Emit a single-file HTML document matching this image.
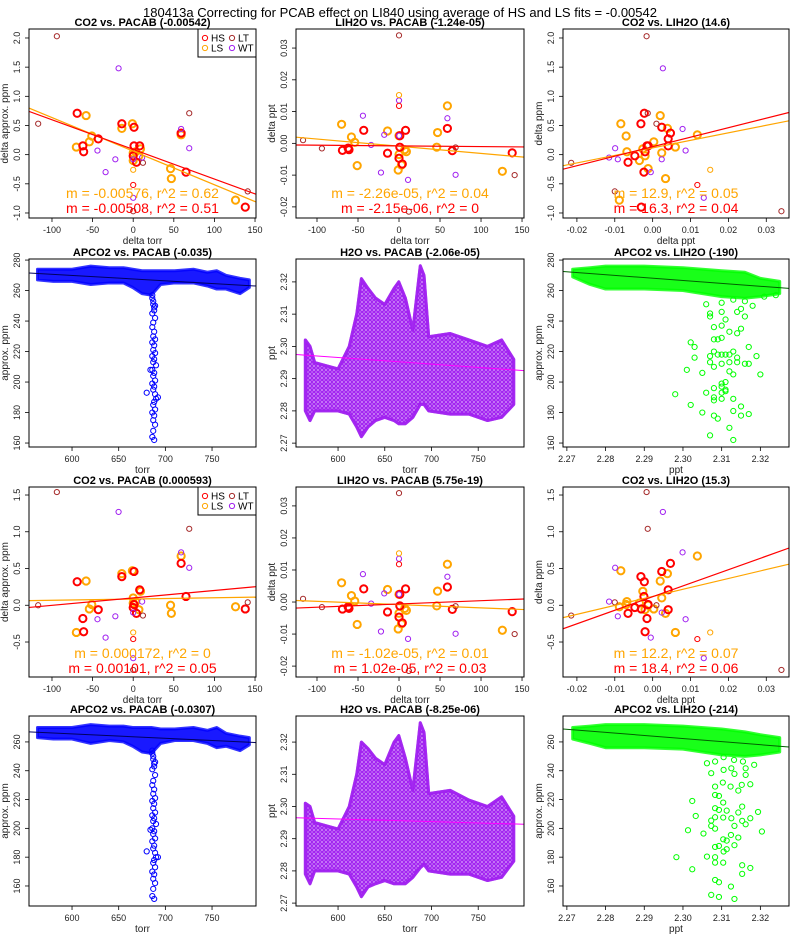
<!DOCTYPE html>
<html><head><meta charset="utf-8"><title>180413a PCAB correction</title>
<style>
html,body{margin:0;padding:0;background:#fff;}
svg{display:block;font-family:"Liberation Sans",Arial,sans-serif;}
</style></head>
<body>
<svg id="fig" width="800" height="950" viewBox="0 0 800 950" xmlns="http://www.w3.org/2000/svg">
<defs>
<pattern id="patPurple" width="4" height="4" patternUnits="userSpaceOnUse"><circle cx="2" cy="2" r="1.6" fill="none" stroke="#a020f0" stroke-width="0.9"/></pattern>
</defs>
<text x="400" y="17" font-size="13" text-anchor="middle">180413a Correcting for PCAB effect on LI840 using average of HS and LS fits = -0.00542</text>
</svg>
<script>
// ---------- data: delta scatter (rows 1 & 3) ----------
const hsTorr=[-69,-62,-61,-43,-14,1,1,0,4,8,59,65,138];
const hsCO2=[0.71,0.15,0.05,0.27,0.53,0.47,0.15,-0.02,-0.13,0.15,0.37,-0.30,-0.90];
const hsH2O=[-0.0022,-0.0015,-0.0020,0.0041,-0.0031,0.0024,-0.0012,-0.0047,-0.0065,0.0041,0.0047,-0.0023,-0.0030];
const hsCO2c=[0.32,-0.18,-0.36,-0.06,0.39,0.46,0.01,-0.03,-0.11,0.21,0.57,0.12,-0.05];
const lsTorr=[-70,-58,-54,-51,-14,-1,0,0,3,7,9,46,47,59,126];
const lsCO2=[0.13,0.67,0.22,0.32,0.45,0.53,0.03,-0.10,0.05,-0.02,0.10,-0.24,-0.41,0.34,-0.78];
const lsH2O=[0.006,0.002,0.0003,-0.007,0.0039,-0.0084,0.0024,-0.0035,-0.0068,-0.0020,-0.0026,-0.0012,0.0034,0.0118,-0.0088];
const lsCO2c=[-0.37,0.33,-0.05,0.01,0.43,0.47,0.10,0.03,0.05,-0.06,0.19,0.0,-0.11,0.67,-0.02];
const ltTorr=[-94,-117,69,141,12,0];
const ltCO2=[2.03,0.53,0.71,-0.63,-0.14,-0.97];
const ltH2O=[-0.0016,0.001,-0.0013,-0.010,-0.0215,0.034];
const ltCO2c=[1.54,0.0,1.04,0.04,-0.14,-0.88];
const wtTorr=[-18,-44,-34,-22,0,0,11,59,69];
const wtCO2=[1.48,0.07,-0.30,-0.08,-0.08,-0.74,-0.05,0.44,0.11];
const wtH2O=[0.0027,0.0087,-0.0005,-0.0092,0.0024,0.0135,-0.0115,0.0079,-0.0099];
const wtCO2c=[1.27,-0.19,-0.44,-0.15,-0.10,-0.72,0.05,0.72,0.51];
const hsOutTorr=[0], hsOutCO2=[-0.52], hsOutH2O=[0.0118], hsOutCO2c=[-0.46];
const lsOutTorr=[0], lsOutCO2=[-0.26], lsOutH2O=[0.0152], lsOutCO2c=[-0.37];

// fit lines [slope, intercept]
const fitR1C1=[[-0.00576,0.06],[-0.00508,0.09]];
const fitR1C2=[[-2.26e-5,-0.0009],[-2.15e-6,-0.0008]];
const fitR1C3=[[12.9,0.116],[16.3,0.136]];
const fitR3C1=[[0.000172,0.085],[0.00101,0.10]];
const fitR3C2=[[-1.02e-5,-0.0008],[1.02e-5,-0.0006]];
const fitR3C3=[[12.2,0.12],[18.4,0.116]];

// ---------- data: dense panels (rows 2 & 4) ----------
const torrBand=[563,580,600,620,640,655,665,675,685,695,710,730,745,755,765,780,790];
const apco2LowR2=[267,266,266,264,265,265,262,258,257,264,265,265,263,261,261,258,262];
const apco2HighR2=[274,274,274,276,275,275,274,273,273,273,273,274,272,273,270,268,267];
const apco2LowR4=[263,262,262,259,261,260,257,253,252,259,261,261,259,256,257,254,258];
const apco2HighR4=[270,270,270,272,271,271,270,270,270,269,269,270,268,270,266,264,263];
const spikeTorr=[686,687,688,686,689,687,686,688,687,689,686,688,687,689,686,688,687,690,686,688,687,689,686,688,687,689,680,690,688,687,689,686,688,687,689,687,686,688,684,692,687,688,686,689];
const spikeR2=[257,253,249,245,242,239,236,233,230,228,226,224,221,219,217,215,213,211,208,206,204,201,199,197,195,192,193,189,187,185,182,180,178,175,172,168,164,162,208,190,251,247,255,250];
const spikeR4=[254,250,245,241,237,233,230,227,224,221,219,217,214,211,209,207,205,203,200,198,196,193,191,188,186,183,184,180,178,176,173,170,168,165,162,158,153,151,199,180,248,243,252,246];

const h2oTorr=[565,570,575,600,612,620,625,632,640,650,660,665,672,680,688,692,697,720,740,760,775,788];
const h2oLowR2=[2.280,2.277,2.280,2.280,2.279,2.275,2.272,2.275,2.277,2.278,2.277,2.276,2.276,2.278,2.282,2.282,2.280,2.279,2.279,2.277,2.278,2.282];
const h2oHighR2=[2.302,2.300,2.295,2.293,2.300,2.310,2.321,2.318,2.315,2.313,2.318,2.320,2.315,2.305,2.325,2.322,2.303,2.304,2.302,2.300,2.302,2.296];
const h2oLowR4=[2.279,2.276,2.280,2.280,2.279,2.275,2.272,2.275,2.276,2.277,2.276,2.276,2.276,2.278,2.281,2.282,2.280,2.279,2.279,2.277,2.278,2.283];
const h2oHighR4=[2.301,2.300,2.295,2.293,2.300,2.310,2.320,2.318,2.315,2.313,2.320,2.322,2.315,2.305,2.326,2.323,2.304,2.305,2.302,2.300,2.303,2.297];

const pptBand=[2.2715,2.276,2.28,2.29,2.30,2.31,2.316,2.32,2.325];
const greenLowR2=[269,264,261,261,260,256,255,256,258];
const greenHighR2=[274,275,276,276,275,273,272,268,266];
const greenLowR4=[262,259,256,256,255,251,250,251,253];
const greenHighR4=[270,271,272,272,271,269,267,265,263];
const gPptR2=[2.298,2.302,2.301,2.303,2.302,2.305,2.306,2.307,2.307,2.307,2.307,2.306,2.308,2.308,2.308,2.308,2.308,2.308,2.308,2.308,2.307,2.309,2.309,2.309,2.310,2.310,2.310,2.310,2.310,2.310,2.310,2.310,2.310,2.310,2.311,2.311,2.311,2.311,2.311,2.312,2.312,2.312,2.312,2.312,2.313,2.313,2.313,2.313,2.313,2.314,2.314,2.314,2.314,2.315,2.315,2.315,2.315,2.316,2.316,2.317,2.317,2.317,2.319,2.320,2.318,2.313,2.316,2.321,2.324,2.303,2.305];
const gCo2R2=[192,185,208,216,226,206,193,217,213,243,245,251,236,228,220,210,196,190,188,178,165,176,218,228,237,229,218,199,197,193,189,212,246,252,195,200,218,194,241,218,233,170,213,207,181,205,189,162,220,213,216,232,246,184,178,235,248,212,243,212,179,223,217,205,250,254,253,256,257,223,180];
const gPptR4=[2.3062,2.3083,2.3105,2.3132,2.3155,2.3184,2.3073,2.3105,2.3125,2.3162,2.3133,2.3162,2.3103,2.3083,2.3123,2.3152,2.3174,2.3143,2.3083,2.3093,2.3104,2.3024,2.3083,2.3093,2.3113,2.3153,2.3143,2.3194,2.3033,2.3083,2.3104,2.3125,2.3174,2.3073,2.3153,2.3133,2.3162,2.3013,2.3073,2.3083,2.3053,2.3204,2.3124,2.3143,2.3104,2.3113,2.3133,2.3083,2.3093,2.3105,2.3113,2.2983,2.3062,2.3083,2.3083,2.3104,2.3153,2.3174,2.3024,2.3153,2.3083,2.3093,2.3124,2.3073,2.3093,2.3133];
const gCo2R4=[245.2,246.4,249.4,247.5,246.4,244.1,238.3,240.6,241.7,241.7,237.8,237.1,231.8,229.0,229.0,230.2,230.6,226.2,223.2,222.5,217.9,219.0,214.0,212.8,212.3,215.1,211.0,211.4,208.6,207.7,207.5,207.0,207.0,205.4,205.2,201.7,202.8,198.7,201.7,199.8,196.4,197.8,195.4,193.6,192.4,191.5,188.3,187.1,187.8,183.9,185.5,180.0,180.4,180.0,176.2,176.2,174.4,172.5,171.6,168.4,164.2,162.6,159.6,153.8,152.4,151.0];

// dense-panel fit lines [slope, intercept-at-xref, xref]
const fitR2C1=[-0.035,271.5,554]; const fitR4C1=[-0.0307,267,554];
const fitR2C2=[-2.06e-5,2.2975,555]; const fitR4C2=[-8.25e-6,2.2965,555];
const fitR2C3=[-190,272.5,2.269]; const fitR4C3=[-214,269,2.269];

// tick labels
const tDtorr=[-100,-50,0,50,100,150];
const tDppt=[-0.02,-0.01,0,0.01,0.02,0.03];
const tDppt2=[-0.02,-0.01,0,0.01,0.02,0.03];
const tCO2r1=[-1.0,-0.5,0.0,0.5,1.0,1.5,2.0];
const tCO2r3=[-0.5,0.0,0.5,1.0,1.5];
const tTorr=[600,650,700,750];
const tAp2=[160,180,200,220,240,260,280];
const tAp4=[160,180,200,220,240,260];
const tH2O=[2.27,2.28,2.29,2.30,2.31,2.32];
const tPpt=[2.27,2.28,2.29,2.30,2.31,2.32];

const NS="http://www.w3.org/2000/svg";
const svg=document.getElementById('fig');
function mk(tag,attrs,parent){const e=document.createElementNS(NS,tag);for(const k in attrs)e.setAttribute(k,attrs[k]);(parent||svg).appendChild(e);return e;}
const COLS=[[29,256],[296,524],[563,789]];
const ROWS=[[29,218],[259,447],[487,677],[716,906]];

function panel(r,c,xd,yd,xt,yt,xfmt,yfmt,title,xlab,ylab,name){
  const [x0,x1]=COLS[c],[y0,y1]=ROWS[r];
  const g=mk('g',{});
  
  
  const sx=v=>x0+(v-xd[0])/(xd[1]-xd[0])*(x1-x0);
  const sy=v=>y1-(v-yd[0])/(yd[1]-yd[0])*(y1-y0);
  const t=mk('text',{x:(x0+x1)/2,y:y0-3,'font-size':11,'font-weight':'bold','text-anchor':'middle'},g);t.textContent=title;
  
  
  xt.forEach(v=>{const X=sx(v);mk('line',{x1:X,x2:X,y1:y1,y2:y1+4,stroke:'#000','stroke-width':0.8},g);
    const tx=mk('text',{x:X,y:y1+15,'font-size':9,'text-anchor':'middle',fill:'#222'},g);tx.textContent=xfmt(v);
    
    });
  yt.forEach(v=>{const Y=sy(v);mk('line',{x1:x0-4,x2:x0,y1:Y,y2:Y,stroke:'#000','stroke-width':0.8},g);
    const X=x0-9;const ty=mk('text',{x:X,y:Y,'font-size':9,'text-anchor':'middle',fill:'#222',transform:`rotate(-90 ${X} ${Y})`},g);ty.textContent=yfmt(v);
    
    });
  const xl=mk('text',{x:(x0+x1)/2,y:y1+26,'font-size':10,'text-anchor':'middle',fill:'#222'},g);xl.textContent=xlab;
  
  
  const YX=x0-21,YY=(y0+y1)/2;
  const yl=mk('text',{x:YX,y:YY,'font-size':10,'text-anchor':'middle',fill:'#222',transform:`rotate(-90 ${YX} ${YY})`},g);yl.textContent=ylab;
  
  
  const clip='clip'+r+c;
  const cp=mk('clipPath',{id:clip},g);mk('rect',{x:x0,y:y0,width:x1-x0,height:y1-y0},cp);
  const plot=mk('g',{'clip-path':`url(#${clip})`},g);
  const box=mk('rect',{x:x0,y:y0,width:x1-x0,height:y1-y0,fill:'none',stroke:'#000','stroke-width':1},g);
  
  
  return {g,plot,sx,sy,xd,yd,x0,x1,y0,y1};
}
const f1=v=>v.toFixed(1), f2=v=>v.toFixed(2), f0=v=>String(v);

function pts(P,xs,ys,color,thick,name){
  xs.forEach((x,i)=>{const c=mk('circle',{cx:P.sx(x),cy:P.sy(ys[i]),r:thick?3.6:2.6,fill:'none',stroke:color,'stroke-width':thick?2:1},P.plot);
    
    });
}
function fitLines(P,fits){
  const cols=['#ffa500','#ff0000'];
  fits.forEach((f,i)=>{const l=mk('line',{x1:P.sx(P.xd[0]),y1:P.sy(f[0]*P.xd[0]+f[1]),x2:P.sx(P.xd[1]),y2:P.sy(f[0]*P.xd[1]+f[1]),stroke:cols[i],'stroke-width':1.2},P.plot);
    
    });
}
function annot(P,t1,t2,base){
  const cx=(P.x0+P.x1)/2;
  const a=mk('text',{x:cx,y:base,'font-size':14,'text-anchor':'middle',fill:'#ffa500'},P.g);a.textContent=t1;
  
  
  const b=mk('text',{x:cx,y:base+15,'font-size':14,'text-anchor':'middle',fill:'#ff0000'},P.g);b.textContent=t2;
  
  
}
function legend(P){
  const lx=P.x1-58, ly=P.y0;
  const lg=mk('g',{},P.g);
  
  
  mk('rect',{x:lx,y:ly,width:58,height:28,fill:'#fff',stroke:'#000','stroke-width':1},lg);
  [['HS','#ff0000',0,0],['LT','#a52a2a',1,0],['LS','#ffa500',0,1],['WT','#a020f0',1,1]].forEach(e=>{
    const ex=lx+7+e[2]*27, ey=ly+9+e[3]*10;
    const ent=mk('g',{},lg);
    
    
    mk('circle',{cx:ex,cy:ey,r:2.6,fill:'none',stroke:e[1],'stroke-width':1},ent);
    const t=mk('text',{x:ex+6,y:ey+3.5,'font-size':10},ent);t.textContent=e[0];
  });
}
function deltaSet(P,xs,ys){
  pts(P,xs[0],ys[0],'#ffa500',true,'ls-point');
  pts(P,xs[1],ys[1],'#ff0000',true,'hs-point');
  pts(P,xs[2],ys[2],'#a52a2a',false,'lt-point');
  pts(P,xs[3],ys[3],'#a020f0',false,'wt-point');
  pts(P,xs[4],ys[4],'#ff0000',false,'hs-outlier-point');
  pts(P,xs[5],ys[5],'#ffa500',false,'ls-outlier-point');
}
const TOR=[lsTorr,hsTorr,ltTorr,wtTorr,hsOutTorr,lsOutTorr];
const H2=[lsH2O,hsH2O,ltH2O,wtH2O,hsOutH2O,lsOutH2O];
const C1=[lsCO2,hsCO2,ltCO2,wtCO2,hsOutCO2,lsOutCO2];
const C3=[lsCO2c,hsCO2c,ltCO2c,wtCO2c,hsOutCO2c,lsOutCO2c];

const dTx1=[-128.3,151.2], dTx2=[-125.6,152.4], dPx=[-0.02367,0.036];
// Row 1
let P=panel(0,0,dTx1,[-1.086,2.154],tDtorr,tCO2r1,f0,f1,'CO2 vs. PACAB (-0.00542)','delta torr','delta approx. ppm','panel-co2-vs-pacab-r1');
deltaSet(P,TOR,C1);fitLines(P,fitR1C1);annot(P,'m = -0.00576, r^2 = 0.62','m = -0.00508, r^2 = 0.51',198);legend(P);
P=panel(0,1,dTx2,[-0.0235,0.036],tDtorr,tDppt,f0,f2,'LIH2O vs. PACAB (-1.24e-05)','delta torr','delta ppt','panel-lih2o-vs-pacab-r1');
deltaSet(P,TOR,H2);fitLines(P,fitR1C2);annot(P,'m = -2.26e-05, r^2 = 0.04','m = -2.15e-06, r^2 = 0',198);
P=panel(0,2,dPx,[-1.086,2.154],tDppt2,tCO2r1,f2,f1,'CO2 vs. LIH2O (14.6)','delta ppt','delta ppm','panel-co2-vs-lih2o-r1');
deltaSet(P,H2,C1);fitLines(P,fitR1C3);annot(P,'m = 12.9, r^2 = 0.05','m = 16.3, r^2 = 0.04',198);
// Row 3
P=panel(2,0,dTx1,[-0.976,1.609],tDtorr,tCO2r3,f0,f1,'CO2 vs. PACAB (0.000593)','delta torr','delta approx. ppm','panel-co2-vs-pacab-r3');
deltaSet(P,TOR,C3);fitLines(P,fitR3C1);annot(P,'m = 0.000172, r^2 = 0','m = 0.00101, r^2 = 0.05',658);legend(P);
P=panel(2,1,dTx2,[-0.0234,0.0359],tDtorr,tDppt,f0,f2,'LIH2O vs. PACAB (5.75e-19)','delta torr','delta ppt','panel-lih2o-vs-pacab-r3');
deltaSet(P,TOR,H2);fitLines(P,fitR3C2);annot(P,'m = -1.02e-05, r^2 = 0.01','m = 1.02e-05, r^2 = 0.03',658);
P=panel(2,2,dPx,[-0.976,1.609],tDppt2,tCO2r3,f2,f1,'CO2 vs. LIH2O (15.3)','delta ppt','delta ppm','panel-co2-vs-lih2o-r3');
deltaSet(P,H2,C3);fitLines(P,fitR3C3);annot(P,'m = 12.2, r^2 = 0.07','m = 18.4, r^2 = 0.06',658);

// dense panels
function band(P,xs,lo,hi,color,fill,op,name){
  let d='M'+xs.map((x,i)=>P.sx(x)+','+P.sy(hi[i])).join(' L');
  d+=' L'+xs.map((x,i)=>P.sx(x)+','+P.sy(lo[i])).reverse().join(' L')+' Z';
  const p=mk('path',{d:d,fill:fill,'fill-opacity':op,stroke:color,'stroke-width':3,'stroke-linejoin':'round','stroke-opacity':0.8},P.plot);
  
  
}
function fitDense(P,f,color){
  const y=x=>f[1]+f[0]*(x-f[2]);
  const l=mk('line',{x1:P.sx(P.xd[0]),y1:P.sy(y(P.xd[0])),x2:P.sx(P.xd[1]),y2:P.sy(y(P.xd[1])),stroke:color,'stroke-width':1},P.plot);
  
  
}
const torrX1=[553.9,797.1], torrX2=[555,799], pptX=[2.269,2.3274];
[[1,apco2LowR2,apco2HighR2,spikeR2,[157.4,280.7],tAp2,fitR2C1,'r2'],[3,apco2LowR4,apco2HighR4,spikeR4,[146.1,278],tAp4,fitR4C1,'r4']].forEach(s=>{
  const Q=panel(s[0],0,torrX1,s[4],tTorr,s[5],f0,f0,s[0]==1?'APCO2 vs. PACAB (-0.035)':'APCO2 vs. PACAB (-0.0307)','torr','approx. ppm','panel-apco2-vs-pacab-'+s[7]);
  band(Q,torrBand,s[1],s[2],'#0000ff','#0000ff',0.9,'apco2-point-cloud');
  pts(Q,spikeTorr,s[3],'#0000ff',false,'apco2-point');
  fitDense(Q,s[6],'#000060');
});
[[1,h2oLowR2,h2oHighR2,[2.2688,2.3271],fitR2C2,'H2O vs. PACAB (-2.06e-05)','r2'],[3,h2oLowR4,h2oHighR4,[2.2691,2.3281],fitR4C2,'H2O vs. PACAB (-8.25e-06)','r4']].forEach(s=>{
  const Q=panel(s[0],1,torrX2,s[3],tTorr,tH2O,f0,f2,s[5],'torr','ppt','panel-h2o-vs-pacab-'+s[6]);
  band(Q,h2oTorr,s[1],s[2],'#a020f0','url(#patPurple)',1,'h2o-point-cloud');
  band(Q,h2oTorr,s[1],s[2],'#a020f0','#a020f0',0.6,'h2o-point-cloud-shade');
  fitDense(Q,s[4],'#ff00ff');
});
[[1,greenLowR2,greenHighR2,gPptR2,gCo2R2,[157.4,280.7],tAp2,fitR2C3,'APCO2 vs. LIH2O (-190)','r2'],[3,greenLowR4,greenHighR4,gPptR4,gCo2R4,[146.1,278],tAp4,fitR4C3,'APCO2 vs. LIH2O (-214)','r4']].forEach(s=>{
  const Q=panel(s[0],2,pptX,s[5],tPpt,s[6],f2,f0,s[8],'ppt','approx. ppm','panel-apco2-vs-lih2o-'+s[9]);
  band(Q,pptBand,s[1],s[2],'#00ff00','#00ff00',0.9,'green-point-cloud');
  pts(Q,s[3],s[4],'#00ff00',false,'apco2-lih2o-point');
  fitDense(Q,s[7],'#006000');
});
</script>
</body></html>
